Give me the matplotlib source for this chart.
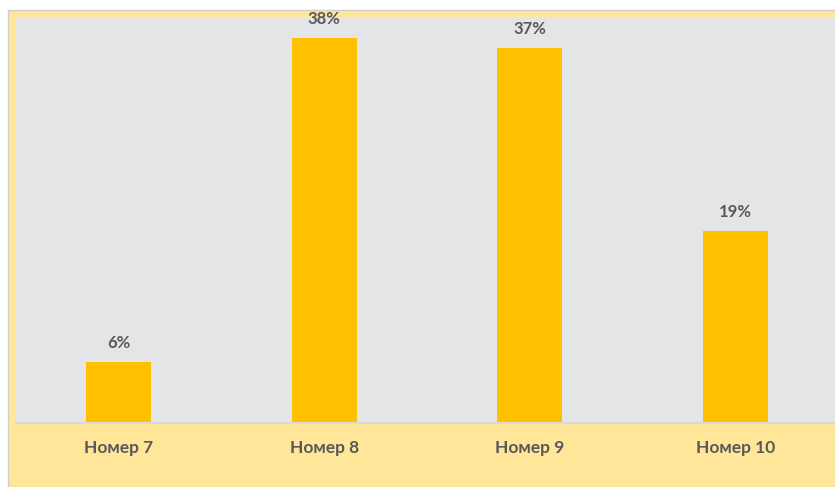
import matplotlib
matplotlib.use('Agg')
import matplotlib.pyplot as plt
from matplotlib.patches import Rectangle

# данные
categories = ["Номер 7", "Номер 8", "Номер 9", "Номер 10"]
values = [6, 38, 37, 19]
labels = ["6%", "38%", "37%", "19%"]

W, H = 835, 487
fig = plt.figure(figsize=(W / 100, H / 100), dpi=100)
fig.patch.set_facecolor("white")

# жёлтая рамка
frame = Rectangle((8 / W, 0), 1 - 8 / W, (H - 10) / H, transform=fig.transFigure,
                  facecolor="#FFE699", edgecolor="#D0CFC8", linewidth=1, zorder=-10)
fig.add_artist(frame)

ax = fig.add_axes([16 / W, (H - 423) / H, 822 / W, (423 - 17) / H])
ax.set_zorder(1)
ax.set_facecolor("#E4E5E7")
x = range(len(categories))
ax.bar(x, values, width=0.316, color="#FFC000", zorder=2)
for i, v in enumerate(values):
    ax.annotate(labels[i], (i, v), xytext=(0, 8), textcoords="offset points",
                ha="center", va="bottom", fontsize=12, fontweight="bold",
                color="#595959", family="Lato")

ax.set_xlim(-0.5, 3.5)
ax.set_ylim(0, 40.1)
ax.set_yticks([])
ax.set_xticks(list(x))
ax.set_xticklabels(categories, fontsize=12.5, fontweight="bold", color="#595959", family="Lato")
ax.tick_params(axis="x", length=0, pad=12)
for s in ["top", "left", "right"]:
    ax.spines[s].set_visible(False)
ax.spines["bottom"].set_color("#D9D9D9")
ax.spines["bottom"].set_linewidth(1.5)

fig.savefig("out.png", dpi=100)
